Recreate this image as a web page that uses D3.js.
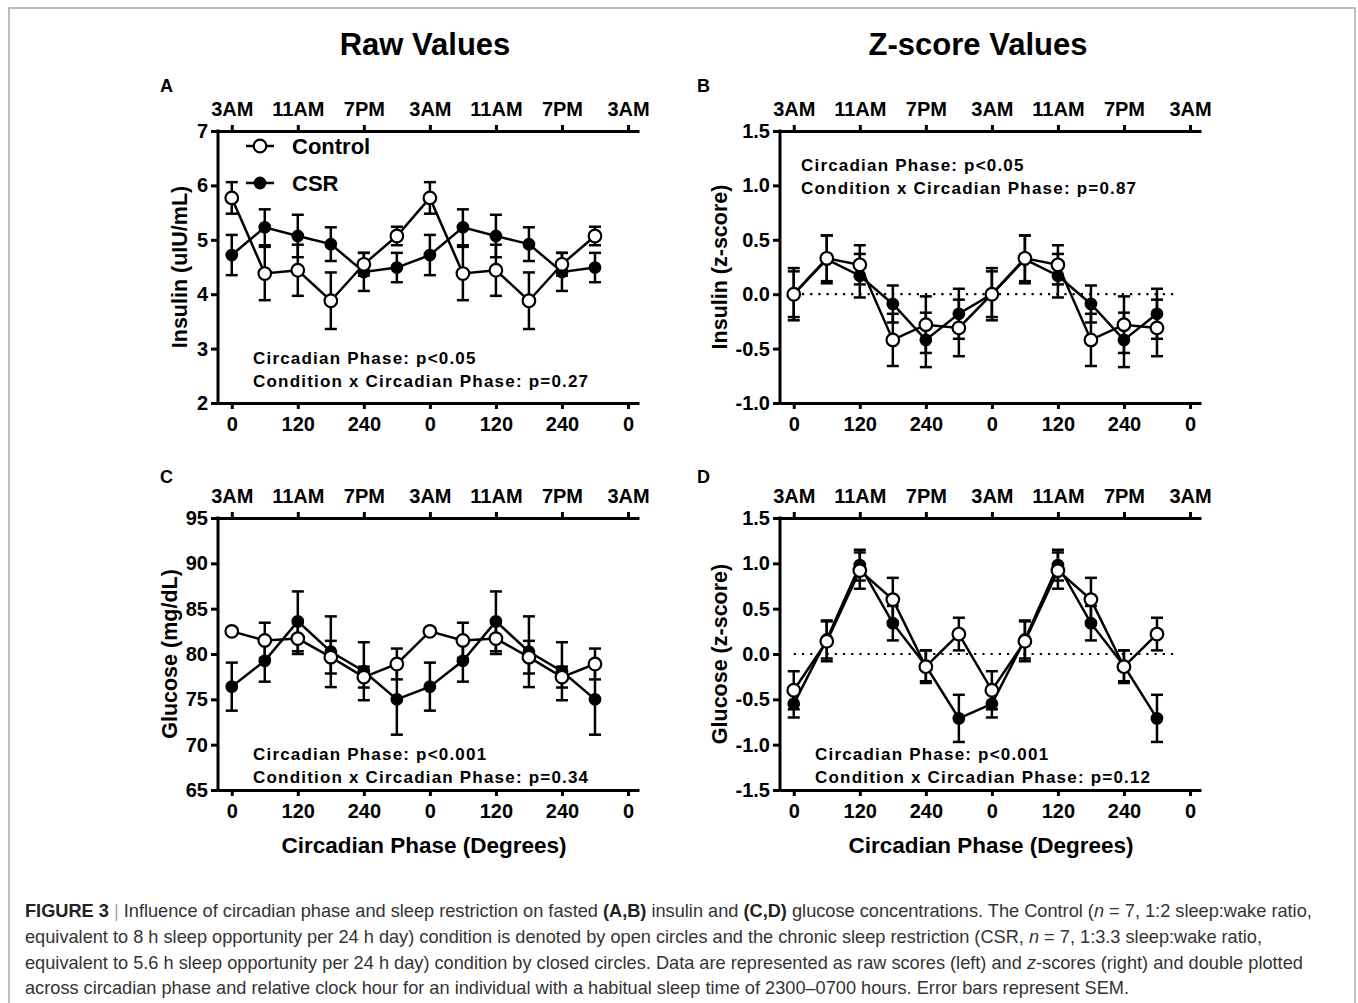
<!DOCTYPE html>
<html>
<head>
<meta charset="utf-8">
<script src="https://cdn.jsdelivr.net/npm/d3@7"></script>
<style>
  body { margin: 0; background: #fff; }
  svg text { font-family: "Liberation Sans", Arial, Helvetica, sans-serif; }
</style>
</head>
<body>
<div id="vis"></div>
<script>
const W = 1358, H = 1003;

// circadian phase (degrees), double plotted
const phases = [0, 60, 120, 180, 240, 300, 360, 420, 480, 540, 600, 660];
const phaseTicks = [0, 120, 240, 360, 480, 600, 720];
const phaseLabels = ["0", "120", "240", "0", "120", "240", "0"];
const clockLabels = ["3AM", "11AM", "7PM", "3AM", "11AM", "7PM", "3AM"];

// A: insulin raw (uIU/mL)
const insulinRawControl = [5.77, 4.38, 4.44, 3.88, 4.55, 5.07, 5.77, 4.38, 4.44, 3.88, 4.55, 5.07];
const insulinRawControlSem = [0.29, 0.49, 0.47, 0.52, 0.21, 0.17, 0.29, 0.49, 0.47, 0.52, 0.21, 0.17];
const insulinRawCsr = [4.72, 5.23, 5.07, 4.92, 4.41, 4.49, 4.72, 5.23, 5.07, 4.92, 4.41, 4.49];
const insulinRawCsrSem = [0.37, 0.33, 0.39, 0.31, 0.35, 0.27, 0.37, 0.33, 0.39, 0.31, 0.35, 0.27];

// B: insulin z-score
const insulinZControl = [0.0, 0.33, 0.27, -0.42, -0.28, -0.31, 0.0, 0.33, 0.27, -0.42, -0.28, -0.31];
const insulinZControlSem = [0.21, 0.21, 0.18, 0.24, 0.26, 0.26, 0.21, 0.21, 0.18, 0.24, 0.26, 0.26];
const insulinZCsr = [0.0, 0.32, 0.17, -0.09, -0.42, -0.18, 0.0, 0.32, 0.17, -0.09, -0.42, -0.18];
const insulinZCsrSem = [0.24, 0.22, 0.2, 0.17, 0.25, 0.23, 0.24, 0.22, 0.2, 0.17, 0.25, 0.23];

// C: glucose raw (mg/dL)
const glucoseRawControl = [82.5, 81.5, 81.7, 79.65, 77.45, 78.9, 82.5, 81.5, 81.7, 79.65, 77.45, 78.9];
const glucoseRawControlSem = [0.3, 1.95, 1.7, 1.8, 1.15, 1.7, 0.3, 1.95, 1.7, 1.8, 1.15, 1.7];
const glucoseRawCsr = [76.4, 79.25, 83.6, 80.25, 78.1, 75.0, 76.4, 79.25, 83.6, 80.25, 78.1, 75.0];
const glucoseRawCsrSem = [2.65, 2.3, 3.3, 3.9, 3.2, 3.9, 2.65, 2.3, 3.3, 3.9, 3.2, 3.9];

// D: glucose z-score
const glucoseZControl = [-0.4, 0.14, 0.92, 0.6, -0.14, 0.22, -0.4, 0.14, 0.92, 0.6, -0.14, 0.22];
const glucoseZControlSem = [0.21, 0.22, 0.2, 0.24, 0.18, 0.18, 0.21, 0.22, 0.2, 0.24, 0.18, 0.18];
const glucoseZCsr = [-0.55, 0.16, 0.98, 0.34, -0.13, -0.71, -0.55, 0.16, 0.98, 0.34, -0.13, -0.71];
const glucoseZCsrSem = [0.15, 0.21, 0.17, 0.19, 0.17, 0.26, 0.15, 0.21, 0.17, 0.19, 0.17, 0.26];

const svg = d3.select("#vis")
  .append("svg")
  .attr("width", W)
  .attr("height", H);

svg.append("rect")
  .attr("x", 9).attr("y", 8)
  .attr("width", 1346).attr("height", 1010)
  .attr("fill", "none")
  .attr("stroke", "#a8a8a8")
  .attr("stroke-width", 1.5);

// column headers
svg.append("text").attr("x", 425).attr("y", 55).attr("text-anchor", "middle")
  .style("font-size", "31px").style("font-weight", "bold").text("Raw Values");
svg.append("text").attr("x", 978).attr("y", 55).attr("text-anchor", "middle")
  .style("font-size", "31px").style("font-weight", "bold").text("Z-score Values");

// plain hyphen for negatives, like the original
const fmt1 = d => d3.format(".1f")(d).replace("\u2212", "-");

const panels = [
  {
    letter: "A", lx: 160, ly: 92, left: 218, top: 131, bottom: 403,
    yDomain: [2, 7], yTicks: [2, 3, 4, 5, 6, 7], yFormat: d3.format("d"),
    yTitle: "Insulin (uIU/mL)", titleX: 179,
    control: insulinRawControl, controlSem: insulinRawControlSem,
    csr: insulinRawCsr, csrSem: insulinRawCsrSem,
    stats: ["Circadian Phase: p<0.05", "Condition x Circadian Phase: p=0.27"],
    statX: 253, statY: 364, legend: true
  },
  {
    letter: "B", lx: 697, ly: 92, left: 780, top: 131, bottom: 403,
    yDomain: [-1, 1.5], yTicks: [-1, -0.5, 0, 0.5, 1, 1.5], yFormat: fmt1,
    yTitle: "Insulin (z-score)", titleX: 719,
    control: insulinZControl, controlSem: insulinZControlSem,
    csr: insulinZCsr, csrSem: insulinZCsrSem,
    stats: ["Circadian Phase: p<0.05", "Condition x Circadian Phase: p=0.87"],
    statX: 801, statY: 171, zero: true
  },
  {
    letter: "C", lx: 160, ly: 483, left: 218, top: 518, bottom: 790,
    yDomain: [65, 95], yTicks: [65, 70, 75, 80, 85, 90, 95], yFormat: d3.format("d"),
    yTitle: "Glucose (mg/dL)", titleX: 169,
    control: glucoseRawControl, controlSem: glucoseRawControlSem,
    csr: glucoseRawCsr, csrSem: glucoseRawCsrSem,
    stats: ["Circadian Phase: p<0.001", "Condition x Circadian Phase: p=0.34"],
    statX: 253, statY: 760, xTitleX: 424
  },
  {
    letter: "D", lx: 697, ly: 483, left: 780, top: 518, bottom: 790,
    yDomain: [-1.5, 1.5], yTicks: [-1.5, -1, -0.5, 0, 0.5, 1, 1.5], yFormat: fmt1,
    yTitle: "Glucose (z-score)", titleX: 719,
    control: glucoseZControl, controlSem: glucoseZControlSem,
    csr: glucoseZCsr, csrSem: glucoseZCsrSem,
    stats: ["Circadian Phase: p<0.001", "Condition x Circadian Phase: p=0.12"],
    statX: 815, statY: 760, zero: true, xTitleX: 991
  }
];

function drawSeries(g, x, y, values, sem, fill, r) {
  const pts = phases.map((d, i) => ({ phase: d, v: values[i], s: sem[i] }));

  const bars = g.append("g").selectAll("g").data(pts).enter().append("g");
  bars.append("line")
    .attr("x1", d => x(d.phase)).attr("x2", d => x(d.phase))
    .attr("y1", d => y(d.v - d.s)).attr("y2", d => y(d.v + d.s));
  bars.append("line")
    .attr("x1", d => x(d.phase) - 6).attr("x2", d => x(d.phase) + 6)
    .attr("y1", d => y(d.v + d.s)).attr("y2", d => y(d.v + d.s));
  bars.append("line")
    .attr("x1", d => x(d.phase) - 6).attr("x2", d => x(d.phase) + 6)
    .attr("y1", d => y(d.v - d.s)).attr("y2", d => y(d.v - d.s));
  bars.selectAll("line").attr("stroke", "#000").attr("stroke-width", 2.5);

  g.append("path")
    .datum(pts)
    .attr("fill", "none")
    .attr("stroke", "#000")
    .attr("stroke-width", 2.5)
    .attr("d", d3.line().x(d => x(d.phase)).y(d => y(d.v)));

  g.append("g").selectAll("circle").data(pts).enter().append("circle")
    .attr("cx", d => x(d.phase))
    .attr("cy", d => y(d.v))
    .attr("r", r)
    .attr("fill", fill)
    .attr("stroke", "#000")
    .attr("stroke-width", 2.2);
}

function drawPanel(p) {
  const g = svg.append("g");
  const x = d3.scaleLinear().domain([-25, 740]).range([p.left, p.left + 421]);
  const y = d3.scaleLinear().domain(p.yDomain).range([p.bottom, p.top]);

  g.append("text").attr("x", p.lx).attr("y", p.ly)
    .style("font-size", "18px").style("font-weight", "bold").text(p.letter);

  // axes
  const bottomAxis = g.append("g")
    .attr("transform", `translate(0,${p.bottom})`)
    .call(d3.axisBottom(x).tickValues(phaseTicks).tickFormat((d, i) => phaseLabels[i])
      .tickSize(6).tickSizeOuter(0).tickPadding(8));
  const topAxis = g.append("g")
    .attr("transform", `translate(0,${p.top})`)
    .call(d3.axisTop(x).tickValues(phaseTicks).tickFormat((d, i) => clockLabels[i])
      .tickSize(6).tickSizeOuter(0).tickPadding(9));
  const leftAxis = g.append("g")
    .attr("transform", `translate(${p.left},0)`)
    .call(d3.axisLeft(y).tickValues(p.yTicks).tickFormat(p.yFormat)
      .tickSize(7).tickSizeOuter(0).tickPadding(3));

  [bottomAxis, topAxis, leftAxis].forEach(a => {
    a.select(".domain").attr("stroke-width", 3).attr("stroke", "#000");
    a.selectAll(".tick line").attr("stroke-width", 3).attr("stroke", "#000");
    a.selectAll(".tick text")
      .attr("fill", "#000")
      .style("font-size", "20px")
      .style("font-weight", "bold")
      .style("font-family", "'Liberation Sans', Arial, sans-serif");
  });
  leftAxis.select(".domain").attr("d", `M0,${p.bottom + 1.5}V${p.top - 1.5}`);

  // y title
  g.append("text")
    .attr("transform", `translate(${p.titleX},${(p.top + p.bottom) / 2}) rotate(-90)`)
    .attr("text-anchor", "middle")
    .attr("dy", "0.36em")
    .style("font-size", "21.5px").style("font-weight", "bold")
    .text(p.yTitle);

  if (p.xTitleX) {
    g.append("text")
      .attr("x", p.xTitleX).attr("y", p.bottom + 63)
      .attr("text-anchor", "middle")
      .style("font-size", "22.5px").style("font-weight", "bold")
      .text("Circadian Phase (Degrees)");
  }

  if (p.zero) {
    g.append("line")
      .attr("x1", x(0)).attr("x2", x(693))
      .attr("y1", y(0)).attr("y2", y(0))
      .attr("stroke", "#000").attr("stroke-width", 2.2)
      .attr("stroke-dasharray", "2.2,6");
  }

  drawSeries(g, x, y, p.csr, p.csrSem, "#000", 5.3);
  drawSeries(g, x, y, p.control, p.controlSem, "#fff", 6.3);

  p.stats.forEach((s, i) => {
    g.append("text")
      .attr("x", p.statX).attr("y", p.statY + i * 22.5)
      .style("font-size", "17px").style("font-weight", "bold")
      .style("letter-spacing", "1.2px")
      .text(s);
  });

  if (p.legend) {
    const items = [
      { label: "Control", fill: "#fff", r: 6.3, yy: 146 },
      { label: "CSR", fill: "#000", r: 5.3, yy: 183 }
    ];
    const lg = g.selectAll(".legend").data(items).enter().append("g")
      .attr("class", "legend")
      .attr("transform", d => `translate(246,${d.yy})`);
    lg.append("line").attr("x1", 0).attr("x2", 28)
      .attr("stroke", "#000").attr("stroke-width", 2.5);
    lg.append("circle").attr("cx", 14).attr("r", d => d.r)
      .attr("fill", d => d.fill).attr("stroke", "#000").attr("stroke-width", 2.2);
    lg.append("text").attr("x", 46).attr("dy", "0.36em")
      .style("font-size", "22px").style("font-weight", "bold")
      .text(d => d.label);
  }
}

panels.forEach(drawPanel);

// caption
const captionLines = [
  [["FIGURE 3", "b"], [" | ", "sep"], ["Influence of circadian phase and sleep restriction on fasted "], ["(A,B)", "b"],
   [" insulin and "], ["(C,D)", "b"], [" glucose concentrations. The Control ("], ["n", "i"], [" = 7, 1:2 sleep:wake ratio,"]],
  [["equivalent to 8 h sleep opportunity per 24 h day) condition is denoted by open circles and the chronic sleep restriction (CSR, "],
   ["n", "i"], [" = 7, 1:3.3 sleep:wake ratio,"]],
  [["equivalent to 5.6 h sleep opportunity per 24 h day) condition by closed circles. Data are represented as raw scores (left) and "],
   ["z", "i"], ["-scores (right) and double plotted"]],
  [["across circadian phase and relative clock hour for an individual with a habitual sleep time of 2300\u20130700 hours. Error bars represent SEM."]]
];
const captionY = [917, 943, 969, 994];

captionLines.forEach((line, i) => {
  const t = svg.append("text")
    .attr("x", 25).attr("y", captionY[i])
    .attr("fill", "#333")
    .style("font-size", "18.2px");
  line.forEach(([s, k]) => {
    const ts = t.append("tspan").text(s);
    if (k === "b") ts.style("font-weight", "bold").attr("fill", "#222");
    if (k === "i") ts.style("font-style", "italic");
    if (k === "sep") ts.attr("fill", "#aaa");
  });
});
</script>
</body>
</html>
